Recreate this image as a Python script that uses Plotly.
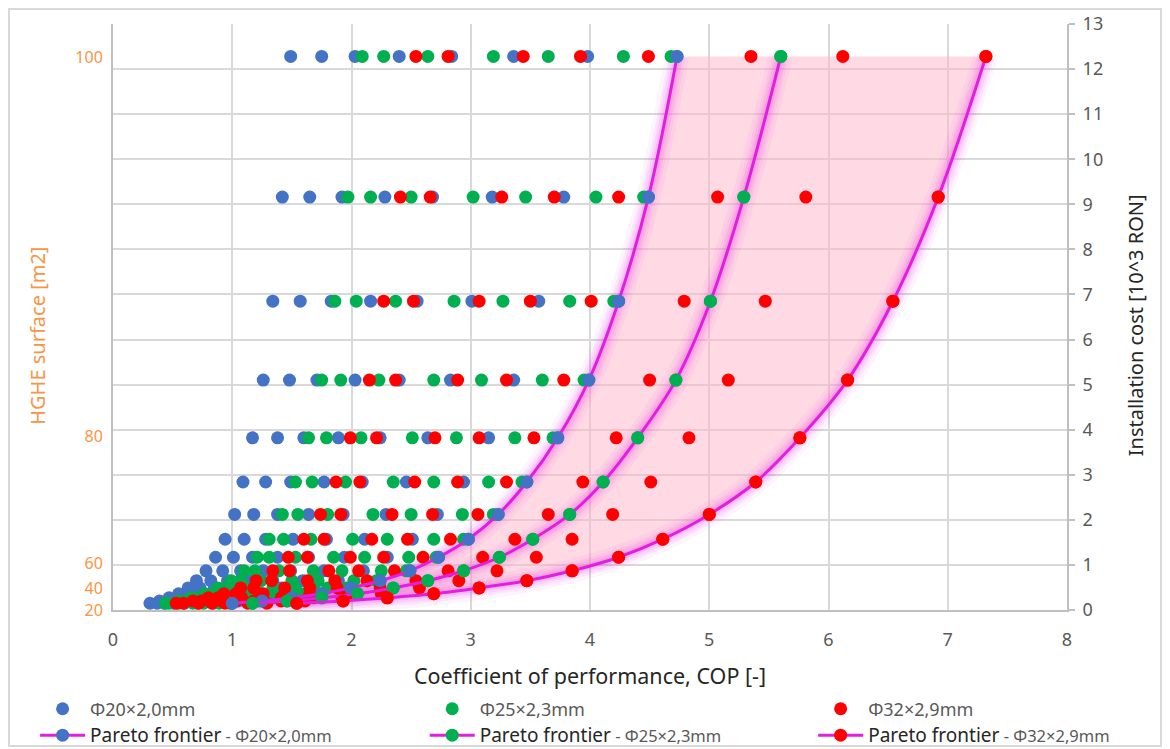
import plotly.graph_objects as go

# ---------------- data ----------------
# installation cost [10^3 RON] of each HGHE-surface row (top row = 100 m2)
cost_rows = [12.28, 9.16, 6.85, 5.10, 3.82, 2.84, 2.12, 1.57,
             1.17, 0.87, 0.65, 0.49, 0.36, 0.27, 0.20, 0.15]

# COP values of the 8 configurations of each row, per pipe size
cop_d20 = [
    [1.49, 1.75, 2.03, 2.40, 2.84, 3.36, 3.98, 4.73],
    [1.42, 1.65, 1.92, 2.28, 2.68, 3.18, 3.78, 4.49],
    [1.34, 1.57, 1.83, 2.16, 2.55, 3.01, 3.57, 4.24],
    [1.26, 1.48, 1.71, 2.03, 2.40, 2.83, 3.36, 3.99],
    [1.17, 1.38, 1.60, 1.89, 2.24, 2.64, 3.15, 3.73],
    [1.09, 1.28, 1.49, 1.77, 2.09, 2.46, 2.94, 3.47],
    [1.02, 1.18, 1.38, 1.64, 1.93, 2.29, 2.72, 3.23],
    [0.94, 1.10, 1.28, 1.51, 1.79, 2.11, 2.51, 2.98],
    [0.86, 1.01, 1.17, 1.38, 1.64, 1.94, 2.30, 2.73],
    [0.78, 0.92, 1.07, 1.26, 1.49, 1.77, 2.10, 2.49],
    [0.70, 0.82, 0.96, 1.14, 1.34, 1.59, 1.89, 2.24],
    [0.63, 0.73, 0.85, 1.01, 1.19, 1.41, 1.68, 1.99],
    [0.55, 0.64, 0.75, 0.89, 1.05, 1.24, 1.47, 1.75],
    [0.47, 0.55, 0.64, 0.76, 0.90, 1.06, 1.26, 1.50],
    [0.39, 0.46, 0.54, 0.63, 0.75, 0.89, 1.05, 1.25],
    [0.31, 0.37, 0.43, 0.51, 0.60, 0.71, 0.84, 1.00],
]
cop_d25 = [
    [2.09, 2.27, 2.64, 3.19, 3.65, 4.28, 4.68, 5.60],
    [1.97, 2.16, 2.50, 3.02, 3.46, 4.05, 4.45, 5.29],
    [1.86, 2.04, 2.37, 2.86, 3.27, 3.83, 4.20, 5.01],
    [1.75, 1.91, 2.23, 2.69, 3.09, 3.60, 3.95, 4.72],
    [1.64, 1.79, 2.08, 2.51, 2.88, 3.37, 3.69, 4.40],
    [1.53, 1.67, 1.95, 2.35, 2.69, 3.15, 3.43, 4.11],
    [1.42, 1.55, 1.80, 2.18, 2.50, 2.93, 3.19, 3.83],
    [1.31, 1.43, 1.66, 2.01, 2.30, 2.69, 2.94, 3.52],
    [1.21, 1.31, 1.53, 1.85, 2.11, 2.48, 2.71, 3.24],
    [1.10, 1.19, 1.39, 1.68, 1.92, 2.25, 2.46, 2.94],
    [0.99, 1.07, 1.24, 1.50, 1.72, 2.02, 2.21, 2.64],
    [0.88, 0.95, 1.11, 1.34, 1.53, 1.80, 1.96, 2.35],
    [0.77, 0.83, 0.97, 1.17, 1.34, 1.57, 1.71, 2.05],
    [0.65, 0.71, 0.82, 1.00, 1.14, 1.34, 1.46, 1.75],
    [0.55, 0.59, 0.69, 0.83, 0.95, 1.12, 1.22, 1.46],
    [0.44, 0.47, 0.55, 0.67, 0.76, 0.89, 0.98, 1.17],
]
cop_d32 = [
    [2.54, 2.81, 3.44, 3.92, 4.49, 5.35, 6.12, 7.32],
    [2.41, 2.66, 3.26, 3.70, 4.24, 5.07, 5.81, 6.92],
    [2.27, 2.52, 3.07, 3.50, 4.01, 4.79, 5.47, 6.54],
    [2.15, 2.37, 2.89, 3.30, 3.78, 4.50, 5.16, 6.16],
    [1.99, 2.21, 2.70, 3.07, 3.53, 4.22, 4.83, 5.76],
    [1.87, 2.07, 2.53, 2.89, 3.30, 3.94, 4.51, 5.39],
    [1.74, 1.91, 2.34, 2.68, 3.06, 3.65, 4.19, 5.00],
    [1.60, 1.77, 2.17, 2.47, 2.83, 3.37, 3.85, 4.61],
    [1.47, 1.63, 1.99, 2.27, 2.60, 3.10, 3.55, 4.24],
    [1.34, 1.48, 1.81, 2.06, 2.36, 2.81, 3.22, 3.85],
    [1.20, 1.33, 1.63, 1.86, 2.13, 2.54, 2.90, 3.47],
    [1.07, 1.18, 1.44, 1.65, 1.88, 2.24, 2.57, 3.07],
    [0.93, 1.03, 1.26, 1.44, 1.65, 1.97, 2.25, 2.69],
    [0.80, 0.88, 1.08, 1.23, 1.41, 1.68, 1.92, 2.30],
    [0.67, 0.74, 0.91, 1.03, 1.18, 1.41, 1.61, 1.93],
    [0.53, 0.59, 0.72, 0.83, 0.94, 1.13, 1.29, 1.54],
]

series_names = ["Φ20×2,0mm", "Φ25×2,3mm", "Φ32×2,9mm"]
series_colors = ["#4472C4", "#00B050", "#FF0000"]

left_tick_vals = [0.0, 0.49, 1.04, 3.86, 12.27]
left_tick_text = ["20", "40", "60", "80", "100"]

# ---------------- styling ----------------
FONT = "Noto Sans"
GRID = "#D9D9D9"
AXLINE = "#BFBFBF"
TICKC = "#595959"
ORANGE = "#F79646"
MAGENTA = "#E01FDF"

all_series = [cop_d20, cop_d25, cop_d32]
pareto = [[max(r) for r in rows] for rows in all_series]
legend_ids = ["legend", "legend2", "legend3"]

fig = go.Figure()

# pink band between the first and last Pareto frontier (left axis, same 0-13 range)
fig.add_trace(go.Scatter(x=pareto[0], y=cost_rows, mode="lines",
                         line=dict(width=0, shape="spline"),
                         showlegend=False, hoverinfo="skip", yaxis="y"))
fig.add_trace(go.Scatter(x=pareto[2], y=cost_rows, mode="lines",
                         line=dict(width=0, shape="spline"),
                         fill="tonexty", fillcolor="rgba(255,179,201,0.5)",
                         showlegend=False, hoverinfo="skip", yaxis="y"))

# glow under the frontier lines
for p in pareto:
    for w, a in [(24, 0.05), (17, 0.07), (12, 0.10), (7, 0.14)]:
        fig.add_trace(go.Scatter(x=p, y=cost_rows, mode="lines",
                                 line=dict(width=w, shape="spline",
                                           color=f"rgba(230,40,230,{a})"),
                                 showlegend=False, hoverinfo="skip", yaxis="y2"))

# scatter clouds
for rows, name, col, lg in zip(all_series, series_names, series_colors, legend_ids):
    xs, ys = [], []
    for c, r in zip(cost_rows, rows):
        for v in r:
            xs.append(v)
            ys.append(c)
    fig.add_trace(go.Scatter(x=xs, y=ys, mode="markers", name=name, legend=lg,
                             marker=dict(size=13, color=col),
                             yaxis="y2"))

# Pareto frontiers
for p, name, col, lg in zip(pareto, series_names, series_colors, legend_ids):
    label = ("<span style='font-size:19px;color:#262626'>Pareto frontier</span>"
             f"<span style='font-size:16.5px;color:#595959'> - {name}</span>")
    fig.add_trace(go.Scatter(x=p, y=cost_rows, mode="lines+markers", name=label,
                             legend=lg,
                             line=dict(width=3, color=MAGENTA, shape="spline"),
                             marker=dict(size=13, color=col),
                             yaxis="y2"))

legend_common = dict(orientation="h", xref="container", yref="container",
                     y=0.078, xanchor="left", yanchor="top", itemwidth=45,
                     entrywidth=440, entrywidthmode="pixels",
                     traceorder="normal", font=dict(size=18, color=TICKC, family=FONT),
                     bgcolor="rgba(0,0,0,0)", tracegroupgap=0)

fig.update_layout(
    width=1170, height=749,
    margin=dict(l=113, r=103, t=24, b=139),
    paper_bgcolor="white", plot_bgcolor="white",
    font=dict(family=FONT, size=18, color=TICKC),
    xaxis=dict(range=[0, 8], dtick=1, showgrid=True, gridcolor=GRID, gridwidth=2,
               zeroline=False, showline=True, linecolor=AXLINE, linewidth=2,
               ticks="", ticklabelstandoff=12, tickfont=dict(size=18, color=TICKC)),
    yaxis=dict(range=[0, 13], tickmode="array", tickvals=left_tick_vals,
               ticktext=left_tick_text, showgrid=False, zeroline=False,
               showline=True, linecolor=AXLINE, linewidth=2, ticks="",
               ticklabelstandoff=5, tickfont=dict(size=16, color=ORANGE)),
    yaxis2=dict(range=[0, 13], dtick=1, overlaying="y", side="right",
                showgrid=True, gridcolor=GRID, gridwidth=2, zeroline=False,
                showline=True, linecolor=AXLINE, linewidth=2,
                ticks="outside", ticklen=6, tickcolor=AXLINE, tickwidth=2,
                ticklabelstandoff=4, tickfont=dict(size=18, color=TICKC)),
    legend=dict(legend_common, x=0.030),
    legend2=dict(legend_common, x=0.363),
    legend3=dict(legend_common, x=0.695),
    showlegend=True,
)

# axis titles
fig.add_annotation(text="Coefficient of performance, COP [-]", xref="paper", yref="paper",
                   x=0.5, y=-0.1126, xanchor="center", yanchor="middle", showarrow=False,
                   font=dict(size=21.5, color="#262626", family=FONT))
fig.add_annotation(text="HGHE surface [m2]", xref="paper", yref="paper",
                   x=-0.0786, y=0.468, xanchor="center", yanchor="middle",
                   textangle=-90, showarrow=False,
                   font=dict(size=20, color=ORANGE, family=FONT))
fig.add_annotation(text="Installation cost [10^3 RON]", xref="paper", yref="paper",
                   x=1.0713, y=0.486, xanchor="center", yanchor="middle",
                   textangle=-90, showarrow=False,
                   font=dict(size=20, color="#262626", family=FONT))

# chart border
fig.add_shape(type="rect", xref="paper", yref="paper",
              x0=-0.109, x1=1.0985, y0=-0.232, y1=1.0256,
              line=dict(color=GRID, width=2), layer="below")

fig.write_html("out.html")
